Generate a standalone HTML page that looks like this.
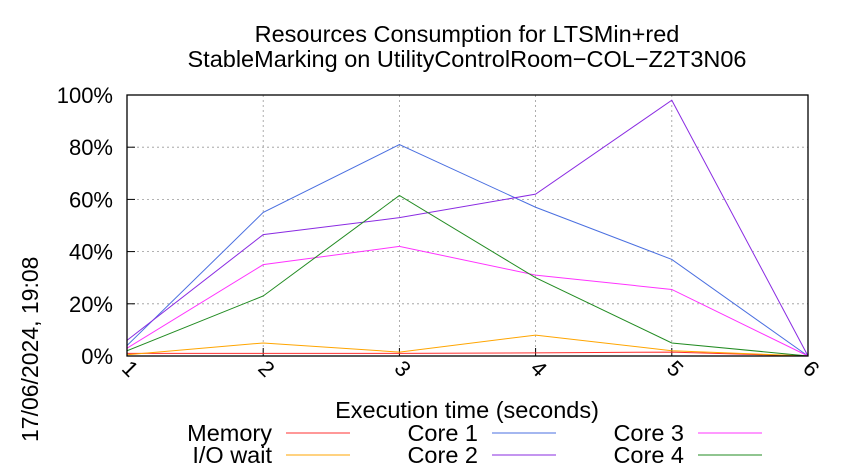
<!DOCTYPE html>
<html><head><meta charset="utf-8"><style>
body{margin:0;background:#fff}
svg{display:block;font-family:"Liberation Sans",sans-serif}
</style></head><body>
<svg id="c" width="850" height="475" viewBox="0 0 850 475">
<text x="467" y="42" font-size="23.5" text-anchor="middle">Resources Consumption for LTSMin+red</text>
<text x="467" y="67" font-size="23.5" text-anchor="middle">StableMarking on UtilityControlRoom−COL−Z2T3N06</text>
<text transform="translate(38,442) rotate(-90)" font-size="23">17/06/2024, 19:08</text>
<text x="467" y="418" font-size="23.5" text-anchor="middle">Execution time (seconds)</text>
<g id="grid"></g><g id="series"></g><g id="legend"></g>
<rect x="127" y="95" width="681" height="261" fill="none" stroke="#000" stroke-width="1.3"/>
</svg>
<script>
const xs=[1,2,3,4,5,6];
const yTicks=[0,20,40,60,80,100];
const memory=[1,1,1,1.2,1.5,0];
const ioWait=[0.5,5,1.5,8,2,0];
const core1=[4,55,81,57,37,0];
const core2=[6,46.5,53,62,98,0];
const core3=[3,35,42,31,25.5,0];
const core4=[2,23,61.5,30,5,0];
const names=["Memory","I/O wait","Core 1","Core 2","Core 3","Core 4"];
const colors=["#ff3030","#ffa500","#4a6fe0","#8a2be2","#ff33ff","#228b22"];
const NS="http://www.w3.org/2000/svg";
const X=v=>127+(v-1)*(681/5), Y=v=>356-v*2.61;
function mk(t,a,p){const e=document.createElementNS(NS,t);for(const k in a)e.setAttribute(k,a[k]);p.appendChild(e);return e;}
const g=document.getElementById('grid');
yTicks.forEach(t=>{
  if(t>0&&t<100){const l=mk('line',{x1:127,x2:808,y1:Y(t),y2:Y(t),stroke:'#999','stroke-dasharray':'2,3','stroke-width':0.8},g);
  
  }
  const tl=mk('text',{x:113,y:Y(t)+8,'font-size':22,'text-anchor':'end'},g);tl.textContent=t+'%';
  
  
  mk('line',{x1:127,x2:135,y1:Y(t),y2:Y(t),stroke:'#000'},g);
});
xs.forEach(v=>{
  if(v>1&&v<6){const l=mk('line',{x1:X(v),x2:X(v),y1:95,y2:356,stroke:'#999','stroke-dasharray':'2,3','stroke-width':0.8},g);
  
  }
  mk('line',{x1:X(v),x2:X(v),y1:348,y2:356,stroke:'#000'},g);
  const tl=mk('text',{transform:`translate(${X(v)-2},${374}) rotate(45)`,'font-size':22,'text-anchor':'middle'},g);tl.textContent=v;
  
  
});
const s=document.getElementById('series');
[memory,ioWait,core1,core2,core3,core4].forEach((d,i)=>{
  const p=mk('polyline',{points:d.map((v,j)=>X(xs[j])+','+Y(v)).join(' '),fill:'none',stroke:colors[i],'stroke-width':1},s);
  
  
});
const lg=document.getElementById('legend');
names.forEach((n,i)=>{
  const col=Math.floor(i/2),row=i%2;
  const bx=[272,478,684][col],by=441+row*22;
  const t=mk('text',{x:bx,y:by,'font-size':23.5,'text-anchor':'end'},lg);t.textContent=n;
  
  
  const l=mk('line',{x1:bx+14,x2:bx+78,y1:by-8,y2:by-8,stroke:colors[i]},lg);
  
  
});
</script>
</body></html>
